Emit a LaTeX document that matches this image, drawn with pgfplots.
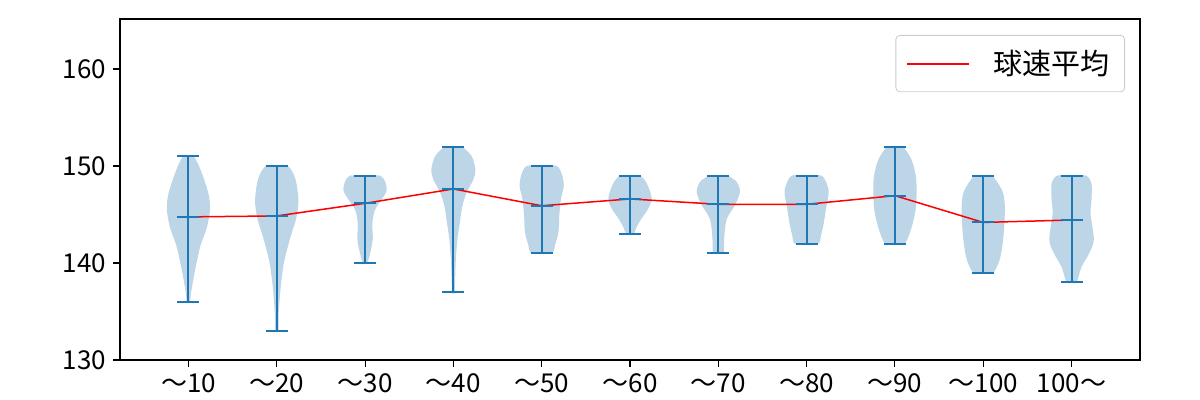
\documentclass[border=0pt]{standalone}
\usepackage{fontspec}
\setmainfont{Noto Sans CJK JP}
\usepackage{pgfplots}
\usepackage{pgfplotstable}
\pgfplotsset{compat=1.18}
\definecolor{mplblue}{HTML}{1F77B4}
\definecolor{violinfill}{HTML}{BCD6E8}
\definecolor{meanred}{HTML}{FF0000}

\pgfplotstableread{
pos min max mean
1 136 151 144.75
2 133 150 144.85
3 140 149 146.15
4 137 152 147.63
5 141 150 145.90
6 143 149 146.60
7 141 149 146.05
8 142 149 146.05
9 142 152 146.94
10 139 149 144.18
11 138 149 144.43
}\stats

\pgfplotstableread{
y w
136 0
136 0.02
136.7 0.026
138.4 0.057
140.1 0.094
141.9 0.14
143.6 0.207
145.5 0.245
147.0 0.23
148.7 0.174
150.2 0.11
151 0.057
151 0
}\vA
\pgfplotstableread{
y w
133 0
133 0.019
135 0.023
137.7 0.047
140.1 0.083
142.5 0.15
144.6 0.22
146.5 0.245
148.7 0.21
150 0.125
150 0
}\vB
\pgfplotstableread{
y w
140 0
140 0.026
141 0.057
142.4 0.087
144.1 0.083
145.5 0.113
146.7 0.2
147.5 0.245
148.4 0.226
149 0.17
149 0
}\vC
\pgfplotstableread{
y w
137 0
137 0.015
140 0.026
142.4 0.045
144.1 0.072
145.8 0.1
147.2 0.147
148.6 0.226
149.6 0.25
151 0.207
152 0.094
152 0
}\vD
\pgfplotstableread{
y w
141 0
141 0.12
141.9 0.153
143.2 0.19
145 0.2
146.7 0.22
147.9 0.25
149.1 0.23
150 0.17
150 0
}\vE
\pgfplotstableread{
y w
143 0
143 0.045
143.7 0.075
144.6 0.132
145.6 0.207
146.7 0.245
148.2 0.19
149 0.113
149 0
}\vF
\pgfplotstableread{
y w
141 0
141 0.06
141.9 0.064
143.2 0.072
144.6 0.098
146 0.19
147.35 0.245
148.4 0.204
149 0.098
149 0
}\vG
\pgfplotstableread{
y w
142 0
142 0.136
142.9 0.164
143.9 0.19
145.6 0.22
147.2 0.25
148 0.235
149 0.17
149 0
}\vH
\pgfplotstableread{
y w
142 0
142 0.113
143.7 0.19
145.5 0.234
147.2 0.245
148.9 0.238
150.6 0.19
152 0.09
152 0
}\vI
\pgfplotstableread{
y w
139 0
139 0.113
140.3 0.185
142 0.22
144.1 0.24
146.15 0.243
147.5 0.213
149 0.1
149 0
}\vJ
\pgfplotstableread{
y w
138 0
138 0.057
139.6 0.113
141 0.2
142.4 0.252
145.1 0.215
146.5 0.226
148.2 0.226
149 0.164
149 0
}\vK

\newcommand{\violin}[2]{%
  \addplot[fill=violinfill, draw=none, smooth, tension=0.5, forget plot] table[x expr=#1+\thisrow{w}, y=y]{#2} -- cycle;
  \addplot[fill=violinfill, draw=none, smooth, tension=0.5, forget plot] table[x expr=#1-\thisrow{w}, y=y]{#2} -- cycle;
}

\begin{document}
\begin{tikzpicture}
\begin{axis}[
  scale only axis,
  width=510pt, height=170.5pt,
  xmin=0.225, xmax=11.775,
  ymin=130, ymax=165.15,
  xtick={1,2,3,4,5,6,7,8,9,10,11},
  xticklabels={～10,～20,～30,～40,～50,～60,～70,～80,～90,～100,100～},
  ytick={130,140,150,160},
  tick align=outside,
  tick pos=left,
  major tick length=3.5pt,
  tick style={black, line width=0.55pt},
  axis line style={line width=0.55pt},
  tick label style={font=\fontsize{13}{15}\selectfont},
  /pgf/number format/assume math mode=true,
  legend style={
    at={(1,1)}, anchor=north east, xshift=-7.5pt, yshift=-8pt,
    draw=black!20, rounded corners=2pt,
    inner xsep=5.5pt, inner ysep=5.25pt,
    font=\fontsize{14.5}{16}\selectfont,
  },
  legend image code/.code={\path[fill=meanred, draw=none, sharp corners] (0pt,-0.5pt) rectangle (31pt,0.5pt); \path (41pt,0pt);},
  vbar/.style={mplblue, line width=1pt, forget plot},
]
\coordinate (bl) at (rel axis cs:0,0);
\coordinate (tr) at (rel axis cs:1,1);
\violin{1}{\vA}
\violin{2}{\vB}
\violin{3}{\vC}
\violin{4}{\vD}
\violin{5}{\vE}
\violin{6}{\vF}
\violin{7}{\vG}
\violin{8}{\vH}
\violin{9}{\vI}
\violin{10}{\vJ}
\violin{11}{\vK}

\addplot[vbar] coordinates {(1,136) (1,151)};
\addplot[vbar] coordinates {(2,133) (2,150)};
\addplot[vbar] coordinates {(3,140) (3,149)};
\addplot[vbar] coordinates {(4,137) (4,152)};
\addplot[vbar] coordinates {(5,141) (5,150)};
\addplot[vbar] coordinates {(6,143) (6,149)};
\addplot[vbar] coordinates {(7,141) (7,149)};
\addplot[vbar] coordinates {(8,142) (8,149)};
\addplot[vbar] coordinates {(9,142) (9,152)};
\addplot[vbar] coordinates {(10,139) (10,149)};
\addplot[vbar] coordinates {(11,138) (11,149)};

\addplot[only marks, mark=-, mark size=5.52pt, mark options={line width=1pt, color=mplblue}, forget plot] table[x=pos, y=min]{\stats};
\addplot[only marks, mark=-, mark size=5.52pt, mark options={line width=1pt, color=mplblue}, forget plot] table[x=pos, y=max]{\stats};
\addplot[only marks, mark=-, mark size=5.52pt, mark options={line width=1pt, color=mplblue}, forget plot] table[x=pos, y=mean]{\stats};

\addplot[meanred, line width=0.75pt, mark=none] table[x=pos, y=mean]{\stats};
\addlegendentry{球速平均}
\end{axis}
\pgfresetboundingbox
\useasboundingbox ([shift={(-60pt,-20pt)}]bl) rectangle ([shift={(30pt,9.5pt)}]tr);
\end{tikzpicture}
\end{document}
